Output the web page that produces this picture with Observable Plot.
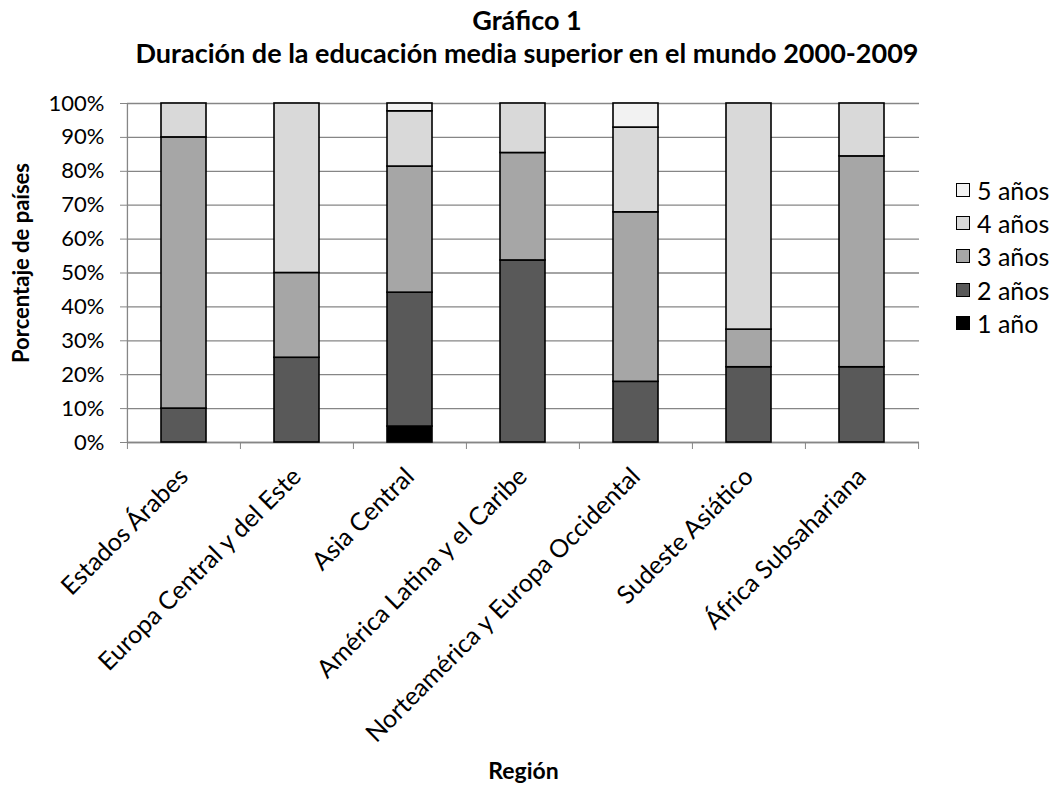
<!DOCTYPE html>
<html><head><meta charset="utf-8">
<script src="https://cdn.jsdelivr.net/npm/d3@7"></script>
<script src="https://cdn.jsdelivr.net/npm/@observablehq/plot@0.6"></script>
<style>
body{margin:0;background:#fff;font-family:Lato,"Open Sans",sans-serif;color:#000;}
#wrap{position:relative;width:1054px;height:788px;overflow:hidden;}
#title{position:absolute;top:3px;left:0;width:1054px;text-align:center;font-weight:bold;font-size:27px;line-height:33px;}
#chart{position:absolute;top:80px;left:0;}
#legend{position:absolute;left:956px;top:173px;font-size:25px;}
.item{display:flex;align-items:center;height:33.4px;}
.sw{width:12px;height:12px;border:1px solid #000;margin-right:7px;box-sizing:content-box;}
</style></head><body>
<div id="wrap">
  <div id="title">Gráfico 1<br>Duración de la educación media superior en el mundo 2000-2009</div>
  <div id="chart"></div>
  <div id="legend"></div>
</div>
<script>
const regions = ["Estados Árabes","Europa Central y del Este","Asia Central","América Latina y el Caribe","Norteamérica y Europa Occidental","Sudeste Asiático","África Subsahariana"];
const levels = ["1 año","2 años","3 años","4 años","5 años"];
const colors = ["#000000","#595959","#a6a6a6","#d9d9d9","#f2f2f2"];
const uno    = [0, 0, 4.7, 0, 0, 0, 0];
const dos    = [10, 25, 39.5, 53.7, 17.9, 22.2, 22.2];
const tres   = [80, 25, 37.2, 31.7, 50, 11.1, 62.2];
const cuatro = [10, 50, 16.3, 14.6, 25, 66.7, 15.6];
const cinco  = [0, 0, 2.3, 0, 7.1, 0, 0];
const yTicks = [0,10,20,30,40,50,60,70,80,90,100];

const series = [uno, dos, tres, cuatro, cinco];
const table = [];
regions.forEach((r, i) => levels.forEach((l, j) => {
  if (series[j][i] > 0) table.push({region: r, level: l, value: series[j][i]});
}));

const W = 1054, H = 708, mL = 127, mR = 135, mT = 23, mB = 346;
const step = (W - mL - mR) / regions.length;
const gray = "#868686";

const chart = Plot.plot({
  width: W, height: H,
  marginLeft: mL, marginRight: mR, marginTop: mT, marginBottom: mB,
  style: {fontFamily: "Lato, 'Open Sans', sans-serif", color: "#000", background: "#fff"},
  x: {domain: regions, paddingInner: 0.6, paddingOuter: 0.3},
  y: {domain: [0, 100]},
  color: {domain: levels, range: colors},
  marks: [
    Plot.gridY(yTicks, {stroke: gray, strokeOpacity: 1, strokeWidth: 1.3}),
    Plot.ruleY([0], {stroke: gray, strokeWidth: 1.3}),
    Plot.ruleX([regions[0]], {dx: -step / 2, y1: 0, y2: 100, stroke: gray, strokeWidth: 1.3}),
    Plot.barY(table, {x: "region", y: "value", fill: "level", stroke: "#000", strokeWidth: 1.6, order: levels}),
    Plot.axisY(yTicks, {tickFormat: d => d + "%", tickSize: 7, tickPadding: 16, stroke: gray, fontSize: 22,
      label: "Porcentaje de países", labelAnchor: "center", labelArrow: "none", labelOffset: 114}),
    Plot.axisX({tickSize: 7, tickFormat: () => "", dx: -step / 2, stroke: gray, label: null}),
    Plot.axisX([regions[regions.length - 1]], {tickSize: 7, tickFormat: () => "", dx: step / 2, stroke: gray, label: null}),
    Plot.axisX({tickSize: 0, tickRotate: -45, tickPadding: 30, fontSize: 25,
      label: "Región", labelAnchor: "center", labelArrow: "none", labelOffset: 336})
  ]
});
chart.querySelectorAll('[aria-label="y-axis label"] text').forEach(t => {
  t.setAttribute("font-weight", "bold"); t.setAttribute("font-size", "22");
  const tr = t.getAttribute("transform");
  if (tr) t.setAttribute("transform", tr + " translate(10,0)");
});
chart.querySelectorAll('[aria-label="x-axis label"] text').forEach(t => {
  t.setAttribute("font-weight", "bold"); t.setAttribute("font-size", "23");
});
document.getElementById("chart").appendChild(chart);

const legend = document.getElementById("legend");
[...levels].reverse().forEach(l => {
  const it = document.createElement("div"); it.className = "item";
  const sw = document.createElement("div"); sw.className = "sw";
  sw.style.background = colors[levels.indexOf(l)];
  it.appendChild(sw);
  const tx = document.createElement("span"); tx.textContent = l;
  it.appendChild(tx);
  legend.appendChild(it);
});
</script>
</body></html>
